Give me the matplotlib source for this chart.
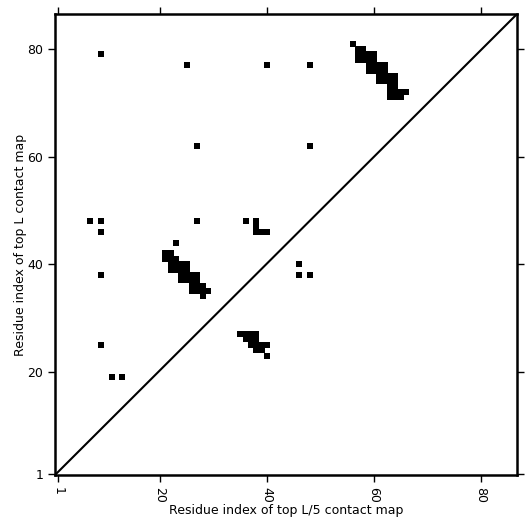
import numpy as np
import matplotlib
matplotlib.use('Agg')
import matplotlib.pyplot as plt

# Contacts (residue i, residue j)
contact_x = [9, 25, 40, 48, 56,
             27, 48,
             7, 9, 9, 27, 36, 38, 38, 38, 39, 40,
             23,
             9, 46, 46, 48,
             9, 11, 13,
             # cluster around (21-29, 34-42)
             21, 22, 21, 22, 23, 22, 23, 24, 25, 22, 23, 24, 25,
             24, 25, 26, 27, 24, 25, 26, 27, 26, 27, 28, 26, 27, 28, 29, 28,
             # cluster around (35-40, 23-27)
             35, 36, 37, 38, 36, 37, 38, 37, 38, 39, 40, 38, 39, 40,
             # cluster around (56-66, 71-81)
             57, 58, 57, 58, 59, 60, 57, 58, 59, 60, 59, 60, 61, 62, 59, 60, 61, 62,
             61, 62, 63, 64, 61, 62, 63, 64, 63, 64, 63, 64, 65, 66, 63, 64, 65]
contact_y = [79, 77, 77, 77, 81,
             62, 62,
             48, 48, 46, 48, 48, 48, 47, 46, 46, 46,
             44,
             38, 40, 38, 38,
             25, 19, 19,
             42, 42, 41, 41, 41, 40, 40, 40, 40, 39, 39, 39, 39,
             38, 38, 38, 38, 37, 37, 37, 37, 36, 36, 36, 35, 35, 35, 35, 34,
             27, 27, 27, 27, 26, 26, 26, 25, 25, 25, 25, 24, 24, 23,
             80, 80, 79, 79, 79, 79, 78, 78, 78, 78, 77, 77, 77, 77, 76, 76, 76, 76,
             75, 75, 75, 75, 74, 74, 74, 74, 73, 73, 72, 72, 72, 72, 71, 71, 71]

tick_pos = [1, 20, 40, 60, 80]
tick_labels = ['1', '20', '40', '60', '80']

fig = plt.figure(figsize=(5.31, 5.31), dpi=100)
ax = fig.add_axes([0.1036, 0.1055, 0.870, 0.868])

ax.scatter(contact_x, contact_y, marker='s', s=19, c='black', linewidths=0)
ax.plot([0, 1], [0, 1], transform=ax.transAxes, color='black', lw=1.5)

ax.set_xlim(0.4, 86.7)
ax.set_ylim(0.8, 86.5)
ax.set_xticks(tick_pos)
ax.set_xticklabels(tick_labels, rotation=270, fontsize=9)
ax.set_yticks(tick_pos)
ax.set_yticklabels(tick_labels, fontsize=9)
ax.tick_params(direction='out', top=True, right=True, length=5, width=1)
for sp in ax.spines.values():
    sp.set_linewidth(1.8)

ax.set_xlabel('Residue index of top L/5 contact map', fontsize=9, labelpad=1)
ax.set_ylabel('Residue index of top L contact map', fontsize=9, labelpad=0.5)

fig.savefig('out.png', dpi=100)
